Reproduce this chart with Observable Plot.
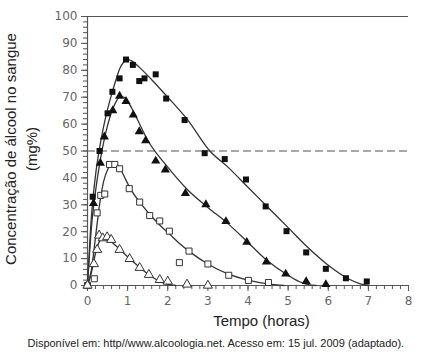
<!DOCTYPE html>
<html><head><meta charset="utf-8">
<script src="https://cdn.jsdelivr.net/npm/d3@7"></script>
<script src="https://cdn.jsdelivr.net/npm/@observablehq/plot@0.6"></script>
<style>body{margin:0;background:#fff}</style>
</head><body><div id="chart"></div>
<script>
// Filled squares
const sqFilledX = [0, 0.13, 0.30, 0.50, 0.62, 0.80, 0.96, 1.13, 1.29, 1.42, 1.70, 1.96, 2.42, 2.92, 3.42, 3.95, 4.44, 4.96, 5.45, 5.94, 6.44, 6.96];
const sqFilledY = [0, 33, 50, 64, 72, 77, 84, 82, 76, 77, 78.5, 69.5, 61.5, 49.2, 47, 39.4, 29.4, 20.2, 12.3, 6.2, 2.7, 1.5];
// Filled triangles
const triFilledX = [0, 0.15, 0.32, 0.42, 0.63, 0.80, 0.96, 1.14, 1.29, 1.45, 1.70, 1.94, 2.44, 2.95, 3.45, 3.97, 4.46, 4.94, 5.45, 5.94];
const triFilledY = [0, 30.5, 45.5, 55.3, 65, 70.4, 68.5, 63.4, 57.2, 53.9, 46.3, 43, 34.3, 30.1, 23.8, 16.1, 8.8, 4.3, 1.5, 0.4];
// Open squares
const sqOpenX = [0, 0.17, 0.24, 0.33, 0.43, 0.55, 0.68, 0.80, 1.04, 1.30, 1.55, 1.80, 2.04, 2.29, 2.53, 3.00, 3.52, 4.01, 4.51];
const sqOpenY = [0, 2.5, 27, 33.5, 34, 45, 45, 43.4, 36, 31, 26, 24, 20.2, 8.5, 12.8, 8, 3.8, 1.9, 1.1];
// Open triangles
const triOpenX = [0, 0.16, 0.24, 0.29, 0.38, 0.49, 0.59, 0.80, 1.05, 1.30, 1.53, 1.80, 2.00, 2.48, 3.00];
const triOpenY = [0, 8, 13.3, 18.6, 17.6, 18, 17, 13.3, 9.9, 6.6, 4, 2.1, 1.5, 0.4, 0];

// Fitted curves
const curveAX = [0, 0.1, 0.2, 0.3, 0.4, 0.5, 0.6, 0.7, 0.8, 0.9, 1.0, 1.1, 1.3, 1.6, 2.0, 2.5, 3.05, 3.5, 4.0, 4.5, 5.0, 5.5, 6.0, 6.5, 6.8, 7.0];
const curveAY = [0, 26, 41, 51, 59, 65.5, 71, 76, 80.5, 83, 84, 83.5, 81, 76.5, 70, 61.5, 50, 44, 36.5, 29, 21.5, 14, 7.5, 2.5, 0.6, 0];
const curveBX = [0, 0.1, 0.2, 0.3, 0.4, 0.5, 0.6, 0.7, 0.8, 0.9, 1.0, 1.2, 1.5, 2.0, 2.5, 3.0, 3.5, 4.0, 4.5, 5.0, 5.3, 5.5, 5.7];
const curveBY = [0, 22, 35, 45, 53, 59.5, 64.5, 68, 70, 70, 68.5, 63, 54, 44, 35.5, 29, 23, 16, 9, 3.8, 1.3, 0.3, 0];
const curveCX = [0, 0.1, 0.2, 0.3, 0.4, 0.5, 0.6, 0.7, 0.8, 0.9, 1.05, 1.3, 1.55, 1.8, 2.05, 2.3, 2.55, 3.0, 3.5, 4.0, 4.5, 4.9];
const curveCY = [0, 6, 18, 30, 38.5, 43, 45, 45, 44, 41, 36.5, 31, 26.5, 22.5, 19, 15.5, 12.5, 8, 4.3, 2, 0.6, 0];
const curveDX = [0, 0.1, 0.2, 0.3, 0.4, 0.5, 0.65, 0.8, 1.05, 1.3, 1.55, 1.8, 2.0, 2.2];
const curveDY = [0, 5, 12, 16.5, 18, 17.5, 15.5, 13.5, 10, 6.7, 3.8, 1.5, 0.4, 0];

// Ticks and labels
const xMajor = [0, 1, 2, 3, 4, 5, 6, 7, 8];
const xMinor = d3.range(0, 41).map(i => i / 5);
const yMajor = [0, 10, 20, 30, 40, 50, 60, 70, 80, 90, 100];
const yMinor = d3.range(0, 51).map(i => i * 2);
const yLabel1 = "Concentração de álcool no sangue";
const yLabel2 = "(mg%)";
const xLabel = "Tempo (horas)";
const caption = "Disponível em: http//www.alcoologia.net. Acesso em: 15 jul. 2009 (adaptado).";

const rows = (xs, ys) => xs.map((x, i) => ({x, y: ys[i]}));
const lineColor = "#333";
const axisColor = "#555";
const labelFont = "Liberation Sans";

const chart = Plot.plot({
  width: 422, height: 356,
  marginLeft: 87, marginRight: 14, marginTop: 16, marginBottom: 71,
  x: {domain: [0, 8]},
  y: {domain: [0, 100]},
  style: {fontFamily: "DejaVu Sans", background: "white"},
  marks: [
    Plot.ruleY([100], {stroke: axisColor, strokeWidth: 1.2}),
    Plot.ruleY([50], {stroke: axisColor, strokeDasharray: "8,4"}),
    Plot.axisY(yMinor, {tickSize: 4, text: null, label: null, stroke: axisColor}),
    Plot.axisY(yMajor, {tickSize: 6, tickPadding: 4, fontSize: 12, fill: "#666", stroke: axisColor, label: null}),
    Plot.axisX(xMinor, {tickSize: 4, text: null, label: null, stroke: axisColor}),
    Plot.axisX(xMajor, {tickSize: 6, tickPadding: 5, fontSize: 12, fill: "#666", stroke: axisColor, label: null}),
    Plot.ruleX([0], {stroke: axisColor, strokeWidth: 1.2}),
    Plot.ruleY([0], {stroke: axisColor, strokeWidth: 1.2}),
    Plot.line(rows(curveAX, curveAY), {x: "x", y: "y", curve: "monotone-x", stroke: lineColor, strokeWidth: 1.3}),
    Plot.line(rows(curveBX, curveBY), {x: "x", y: "y", curve: "monotone-x", stroke: lineColor, strokeWidth: 1.3}),
    Plot.line(rows(curveCX, curveCY), {x: "x", y: "y", curve: "monotone-x", stroke: lineColor, strokeWidth: 1.3}),
    Plot.line(rows(curveDX, curveDY), {x: "x", y: "y", curve: "monotone-x", stroke: lineColor, strokeWidth: 1.3}),
    Plot.dot(rows(sqFilledX, sqFilledY), {x: "x", y: "y", symbol: "square", r: 3.4, fill: "#111"}),
    Plot.dot(rows(triFilledX, triFilledY), {x: "x", y: "y", symbol: "triangle", r: 3.4, fill: "#111"}),
    Plot.dot(rows(sqOpenX, sqOpenY), {x: "x", y: "y", symbol: "square", r: 3.4, fill: "white", stroke: "#333", strokeWidth: 1}),
    Plot.dot(rows(triOpenX, triOpenY), {x: "x", y: "y", symbol: "triangle", r: 3.4, fill: "white", stroke: "#333", strokeWidth: 1}),
    Plot.text([yLabel1], {frameAnchor: "left", textAnchor: "middle", rotate: -90, dx: -76, dy: -2, fontSize: 15, fontFamily: labelFont, fill: "#222"}),
    Plot.text([yLabel2], {frameAnchor: "left", textAnchor: "middle", rotate: -90, dx: -55, dy: -2, fontSize: 15, fontFamily: labelFont, fill: "#222"}),
    Plot.text([xLabel], {frameAnchor: "bottom", dx: 13.5, dy: 40, fontSize: 15, fontFamily: labelFont, fill: "#222"}),
    Plot.text([caption], {frameAnchor: "bottom-left", textAnchor: "start", dx: -60, dy: 61, fontSize: 11, fontFamily: labelFont, fill: "#222"})
  ]
});
document.getElementById("chart").append(chart);
</script>
</body></html>
